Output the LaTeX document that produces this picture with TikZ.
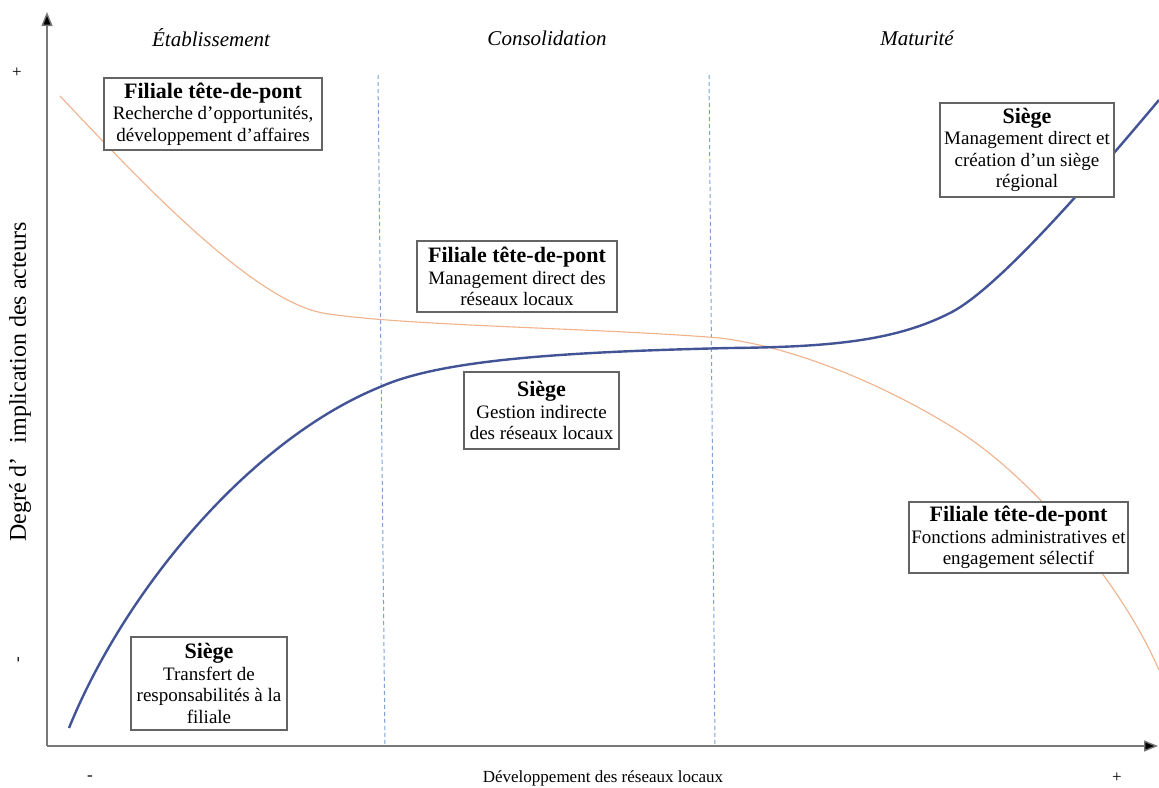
\documentclass[tikz,border=0pt]{standalone}
\usepackage{fontspec}
\setmainfont{Liberation Serif}
\usetikzlibrary{arrows.meta}
\definecolor{siegeblue}{RGB}{66,84,150}
\definecolor{filorange}{RGB}{240,178,138}
\definecolor{phaseblue}{RGB}{125,160,215}
\definecolor{axisgray}{RGB}{120,120,120}
\definecolor{boxgray}{RGB}{100,100,100}
\newcommand{\ttl}{\fontsize{22}{24}\selectfont\bfseries}
\begin{document}
\begin{tikzpicture}[x=1pt,y=-1pt,
  axisline/.style={draw=axisgray,line width=1.4pt,-{Triangle[length=14pt,width=11pt,fill=black]}},
  phaseline/.style={draw=phaseblue,line width=1pt,dash pattern=on 4pt off 3pt},
  siegecurve/.style={draw=siegeblue,line width=2.4pt},
  filcurve/.style={draw=filorange,line width=1.1pt},
  infobox/.style={draw=boxgray,line width=1.1pt,fill=white,align=center,inner sep=0pt,
    font=\fontsize{19}{21.5}\selectfont},
  phasetitle/.style={font=\fontsize{21}{24}\selectfont\itshape},
  axislabel/.style={font=\fontsize{17}{20}\selectfont},
  ylabelstyle/.style={font=\fontsize{24}{26}\selectfont},
  signlabel/.style={font=\fontsize{17}{20}\selectfont}]
\useasboundingbox (0,0) rectangle (1159,787);
\fill[white] (0,0) rectangle (1159,787);

% phase separators
\coordinate (p1t) at (378,75);
\coordinate (p1b) at (385,746);
\coordinate (p2t) at (709,75);
\coordinate (p2b) at (715,746);
\draw[phaseline] (p1t) -- (p1b);
\draw[phaseline] (p2t) -- (p2b);

% curves
\draw[filcurve] (60,96) .. controls (130,170) and (250,300) .. (323,313)
  .. controls (400,326) and (600,328) .. (720,338)
  .. controls (800,348) and (890,388) .. (957,430)
  .. controls (1030,476) and (1120,580) .. (1159,670);
\draw[siegecurve] (69,728) .. controls (125,590) and (250,440) .. (380,387)
  .. controls (440,360) and (560,352) .. (730,348)
  .. controls (830,347) and (895,341) .. (950,313)
  .. controls (1000,288) and (1100,170) .. (1159,100);

% axes
\coordinate (O) at (47,746);
\coordinate (ytop) at (47,12);
\coordinate (xend) at (1158,746);
\draw[axisline] (O) -- (ytop);
\draw[axisline] (O) -- (xend);

% sign labels
\node[signlabel] (yplus) at (17,73) {+};
\node[signlabel,rotate=90] (yminus) at (20,660) {-};
\node[signlabel] (xminus) at (90,778) {-};
\node[signlabel] (xplus) at (1117,778) {+};

% axis labels
\node[axislabel] (xlab) at (603,778) {Développement des réseaux locaux};
\node[ylabelstyle,rotate=90] (ylab) at (20,382) {Degré d’\hspace{8pt} implication des acteurs};

% phase titles
\node[phasetitle] (ph1) at (211,38) {Établissement};
\node[phasetitle] (ph2) at (547,38) {Consolidation};
\node[phasetitle] (ph3) at (917,38) {Maturité};

% boxes
\node[infobox,minimum width=218pt,minimum height=72pt] (b1) at (213,114)
  {{\ttl Filiale tête-de-pont}\\Recherche d’opportunités,\\développement d’affaires};
\node[infobox,minimum width=200pt,minimum height=71pt] (b2) at (517,276.5)
  {{\ttl Filiale tête-de-pont}\\Management direct des\\réseaux locaux};
\node[infobox,minimum width=155pt,minimum height=77pt] (b3) at (541.5,410.5)
  {{\ttl Siège}\\Gestion indirecte\\des réseaux locaux};
\node[infobox,minimum width=174pt,minimum height=94pt] (b4) at (1027,150)
  {{\ttl Siège}\\Management direct et\\création d’un siège\\régional};
\node[infobox,minimum width=219pt,minimum height=71pt] (b5) at (1018.5,537.5)
  {{\ttl Filiale tête-de-pont}\\Fonctions administratives et\\engagement sélectif};
\node[infobox,minimum width=156pt,minimum height=93pt] (b6) at (209,683.5)
  {{\ttl Siège}\\Transfert de\\responsabilités à la\\filiale};
\end{tikzpicture}
\end{document}
